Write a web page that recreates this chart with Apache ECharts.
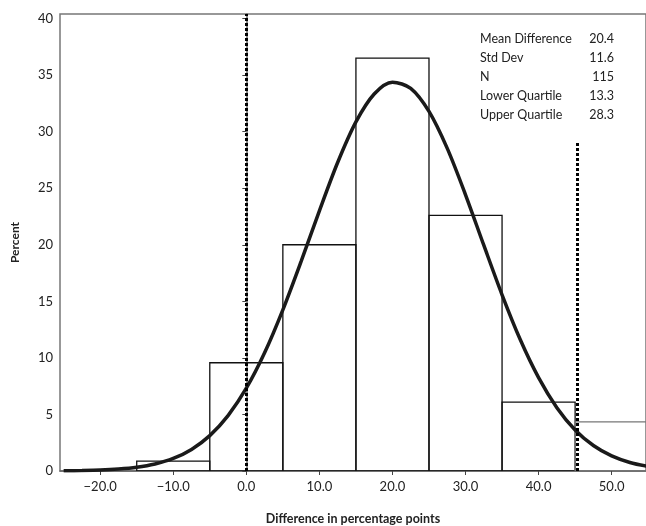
<!DOCTYPE html>
<html>
<head>
<meta charset="utf-8">
<script src="https://cdn.jsdelivr.net/npm/echarts@6/dist/echarts.min.js"></script>
<style>
html,body{margin:0;padding:0;background:#fff;}
#chart{width:646px;height:526px;}
</style>
</head>
<body>
<div id="chart"></div>
<script>
// Histogram bins: [start, end] and percent heights
var binStarts = [-15, -5, 5, 15, 25, 35, 45];
var binEnds   = [-5, 5, 15, 25, 35, 45, 55];
var binPercent = [0.87, 9.57, 20.0, 36.5, 22.6, 6.09, 4.35];

// Fitted curve
var curveX = [-25, -22.5, -20, -17.5, -15, -12.5, -10, -7.5, -5, -2.5, 0, 2.5, 5, 7.5, 10, 12.5, 15, 17.5, 20, 22.5, 25, 27.5, 30, 32.5, 35, 37.5, 40, 42.5, 45, 47.5, 50, 52.5, 55];
var curveY = [0.02, 0.04, 0.08, 0.17, 0.33, 0.62, 1.11, 1.91, 3.13, 4.9, 7.32, 10.45, 14.25, 18.53, 23.0, 27.27, 30.86, 33.33, 34.37, 33.83, 31.79, 28.52, 24.42, 19.96, 15.58, 11.6, 8.25, 5.6, 3.63, 2.25, 1.33, 0.75, 0.4];

// Reference lines
var refLine1X = 0;
var refLine2X = 45.3;
var refLine2Top = 29.0;

// Axis ticks
var xTicks = [-20, -10, 0, 10, 20, 30, 40, 50];
var yTicks = [0, 5, 10, 15, 20, 25, 30, 35, 40];
var xMin = -25.5, xMax = 54.7, yMin = 0, yMax = 40.4;

// Statistics box
var statLabels = ['Mean Difference', 'Std Dev', 'N', 'Lower Quartile', 'Upper Quartile'];
var statValues = ['20.4', '11.6', '115', '13.3', '28.3'];

var FONT = 'Lato, "Open Sans", sans-serif';

var barData = binStarts.map(function (s, i) { return [s, binEnds[i], binPercent[i], i]; });
var curveData = curveX.map(function (x, i) { return [x, curveY[i]]; });

var graphics = [];
statLabels.forEach(function (t, i) {
  graphics.push({ type: 'text', left: 480, top: 32 + i * 19.2,
    style: { text: t, font: '12.5px ' + FONT, fill: '#222' } });
  graphics.push({ type: 'text', right: 32, top: 32 + i * 19.2,
    style: { text: statValues[i], font: '12.5px ' + FONT, fill: '#222', textAlign: 'right' } });
});

var chart = echarts.init(document.getElementById('chart'), null, { renderer: 'canvas' });
chart.setOption({
  animation: false,
  backgroundColor: '#fff',
  grid: { left: 60, right: 0, top: 14, bottom: 55, outerBoundsMode: 'none', containLabel: false,
    show: true, borderColor: '#777', borderWidth: 1.5, backgroundColor: 'transparent' },
  xAxis: {
    type: 'value', min: xMin, max: xMax,
    name: 'Difference in percentage points', nameLocation: 'middle', nameGap: 41,
    nameTextStyle: { fontFamily: FONT, fontSize: 12.5, fontWeight: 'bold', color: '#222' },
    axisLine: { show: true, onZero: false, lineStyle: { color: '#666', width: 1.5 } },
    axisTick: { show: true, customValues: xTicks, length: 4, lineStyle: { color: '#444' } },
    axisLabel: { customValues: xTicks, fontFamily: FONT, fontSize: 13, color: '#222', margin: 9,
      formatter: function (v) { return v.toFixed(1).replace('-', '\u2212'); } },
    splitLine: { show: false }
  },
  yAxis: {
    type: 'value', min: yMin, max: yMax,
    name: 'Percent', nameLocation: 'middle', nameGap: 39, nameRotate: 90,
    nameTextStyle: { fontFamily: FONT, fontSize: 12, fontWeight: 'bold', color: '#222' },
    axisLine: { show: true, lineStyle: { color: '#666', width: 1.5 } },
    axisTick: { show: true, customValues: yTicks, length: 4, lineStyle: { color: '#444' } },
    axisLabel: { customValues: yTicks, fontFamily: FONT, fontSize: 13, color: '#222', margin: 7 },
    splitLine: { show: false }
  },
  graphic: graphics,
  series: [
    {
      type: 'custom',
      clip: true,
      data: barData,
      encode: { x: [0, 1], y: 2 },
      renderItem: function (params, api) {
        var p0 = api.coord([api.value(0), 0]);
        var p1 = api.coord([api.value(1), api.value(2)]);
        var last = api.value(3) === binStarts.length - 1;
        return {
          type: 'rect',
          shape: { x: p0[0], y: p1[1], width: p1[0] - p0[0], height: p0[1] - p1[1] },
          style: { fill: 'none', stroke: last ? '#777' : '#111', lineWidth: 1.3 }
        };
      },
      z: 2
    },
    {
      type: 'line',
      data: curveData,
      smooth: 0.3,
      showSymbol: false,
      lineStyle: { color: '#1a1a1a', width: 3.5 },
      z: 3,
      markLine: {
        silent: true,
        symbol: 'none',
        label: { show: false },
        lineStyle: { color: '#000', width: 3, type: [3, 2] },
        data: [
          [{ coord: [refLine1X, yMin] }, { coord: [refLine1X, yMax] }],
          [{ coord: [refLine2X, yMin] }, { coord: [refLine2X, refLine2Top] }]
        ]
      }
    }
  ]
});
</script>
</body>
</html>
